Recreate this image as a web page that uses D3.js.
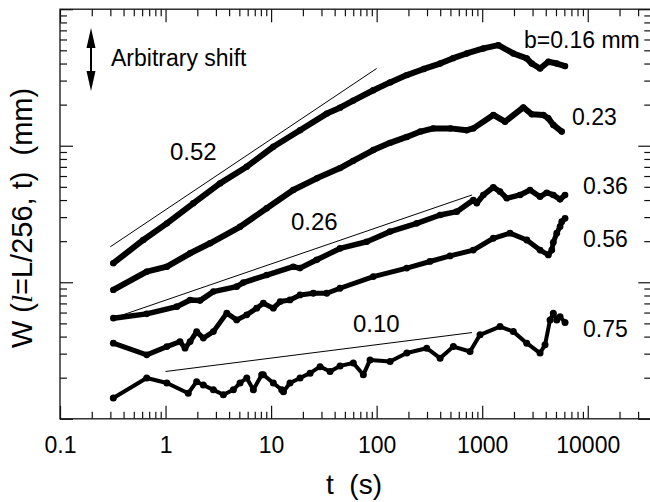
<!DOCTYPE html>
<html>
<head>
<meta charset="utf-8">
<script src="https://cdn.jsdelivr.net/npm/d3@7"></script>
<style>
  body { margin: 0; background: #fff; }
  text { font-family: "Liberation Sans", Arial, sans-serif; fill: #000; }
</style>
</head>
<body>
<svg id="chart" width="650" height="502"></svg>
<script>
// curves of W(l=L/256, t) for each b
var bLabels = ["b=0.16 mm", "0.23", "0.36", "0.56", "0.75"];

var t016 = [0.32, 0.615, 1.03, 1.83, 3.28, 5.88, 10.5, 18.8, 33.7, 45, 60, 93, 134, 193, 280, 399, 530, 714, 1025, 1422, 1972, 2642, 2948, 3532, 4233, 5085, 6095];
var w016 = [13.8, 20.4, 27.0, 37.9, 53.0, 70.2, 98.3, 130, 172, 190, 214, 255, 291, 329, 365, 400, 438, 474, 516, 545, 474, 436, 400, 368, 412, 400, 383];

var t023 = [0.32, 0.663, 1.03, 1.71, 2.64, 5.08, 9.09, 16.2, 27.1, 45, 60, 93, 134, 193, 260, 344, 500, 714, 824, 1275, 1646, 2453, 2948, 3796, 4233, 4721, 5671];
var w023 = [8.79, 11.96, 13.0, 16.3, 19.3, 25.5, 34.8, 47.4, 57.7, 68.6, 77.5, 93.0, 105, 116, 127, 134, 134, 130, 134, 168, 150, 191, 170, 168, 159, 142, 127];

var t036 = [0.32, 0.663, 1.28, 1.71, 2.12, 2.84, 4.72, 5.46, 9.09, 16.2, 18.8, 27.1, 45, 80.5, 134, 240, 399, 574, 824, 888, 1025, 1275, 1476, 1708, 2283, 2840, 3532, 4088, 4721, 5465, 6095];
var w036 = [5.46, 5.87, 6.63, 7.42, 7.34, 8.54, 9.29, 9.94, 11.3, 13.0, 12.7, 14.6, 17.7, 19.8, 23.5, 27.0, 31.1, 32.9, 40.0, 37.9, 43.6, 49.6, 46.1, 41.2, 43.6, 47.4, 42.3, 45.3, 43.6, 40.5, 43.6];

var t056 = [0.32, 0.663, 1.03, 1.37, 1.53, 1.71, 1.97, 2.28, 2.84, 3.80, 4.72, 5.88, 7.31, 8.44, 10.5, 12.2, 15.1, 18.8, 25.1, 33.7, 45, 93, 193, 320, 496, 824, 1275, 1835, 2642, 3532, 4233, 4559, 4721, 5085, 5465, 5671, 6095];
var w056 = [3.58, 2.94, 3.38, 3.68, 3.29, 3.68, 4.35, 3.90, 4.35, 5.94, 5.30, 5.77, 6.46, 7.03, 6.46, 7.22, 7.42, 8.08, 8.31, 8.31, 9.04, 11.0, 12.7, 14.2, 15.6, 17.2, 21.0, 22.9, 20.4, 17.2, 15.85, 17.2, 19.6, 22.9, 25.6, 27.8, 29.4];

var t075 = [0.32, 0.663, 1.03, 1.64, 1.97, 2.28, 2.84, 3.53, 4.39, 5.08, 5.88, 6.79, 8.15, 8.44, 10.5, 12.6, 13.1, 15.1, 18.8, 23.4, 29.1, 36.2, 45, 60.1, 74.8, 86.6, 134, 193, 298, 399, 533, 767, 954, 1476, 1972, 2642, 3532, 3939, 4393, 4721, 5085, 5465, 6095];
var w075 = [1.42, 1.99, 1.83, 1.54, 1.87, 1.77, 1.63, 1.50, 1.63, 1.83, 1.99, 1.63, 2.10, 2.10, 1.83, 1.63, 1.58, 1.83, 1.99, 2.16, 2.41, 2.22, 2.44, 2.56, 2.10, 2.70, 2.63, 3.03, 3.29, 2.78, 3.38, 3.11, 4.12, 4.74, 4.35, 3.58, 3.03, 3.48, 5.30, 5.94, 5.30, 5.60, 5.07];

// power-law guide lines (end points) and their slopes
var fitLabels = ["0.52", "0.26", "0.10"];
var fitT = [[0.3, 100], [0.32, 800], [1, 800]];
var fitW = [[18.2, 368], [5.46, 43.6], [2.22, 4.28]];

var xTicks = [0.1, 1, 10, 100, 1000, 10000];
var xTickLabels = ["0.1", "1", "10", "100", "1000", "10000"];
var yTicks = [1, 10, 100, 1000];

var svg = d3.select("#chart");

var x = d3.scaleLog().domain([0.1, 40000]).range([60, 651.3]);
var y = d3.scaleLog().domain([1, 1000]).range([418.8, 9.2]);

var x0 = x.range()[0], x1 = x.range()[1];
var yb = y.range()[0], yt = y.range()[1];

var xMinor = x.ticks().filter(function (d) { return xTicks.indexOf(d) < 0 && d < 40000; });
var yMinor = y.ticks().filter(function (d) { return yTicks.indexOf(d) < 0; });

function styleAxis(g) {
    g.select(".domain").remove();
    g.selectAll("line").attr("stroke", "#111").attr("stroke-width", 1.2);
}

// bottom + top
svg.append("g").attr("transform", "translate(0," + yb + ")")
    .call(d3.axisBottom(x).tickValues(xMinor).tickSize(-7).tickFormat(""))
    .call(styleAxis);
svg.append("g").attr("transform", "translate(0," + yb + ")")
    .call(d3.axisBottom(x).tickValues(xTicks).tickSize(-13).tickPadding(18)
        .tickFormat(function (d, i) { return xTickLabels[i]; }))
    .call(styleAxis)
    .attr("font-size", 23)
    .attr("font-family", "Liberation Sans, Arial, sans-serif");
svg.append("g").attr("transform", "translate(0," + yt + ")")
    .call(d3.axisTop(x).tickValues(xMinor).tickSize(-7).tickFormat(""))
    .call(styleAxis);
svg.append("g").attr("transform", "translate(0," + yt + ")")
    .call(d3.axisTop(x).tickValues(xTicks).tickSize(-13).tickFormat(""))
    .call(styleAxis);

// left + right
svg.append("g").attr("transform", "translate(" + x0 + ",0)")
    .call(d3.axisLeft(y).tickValues(yMinor).tickSize(-7).tickFormat(""))
    .call(styleAxis);
svg.append("g").attr("transform", "translate(" + x0 + ",0)")
    .call(d3.axisLeft(y).tickValues(yTicks).tickSize(-13).tickFormat(""))
    .call(styleAxis);
svg.append("g").attr("transform", "translate(" + x1 + ",0)")
    .call(d3.axisRight(y).tickValues(yMinor).tickSize(-7).tickFormat(""))
    .call(styleAxis);
svg.append("g").attr("transform", "translate(" + x1 + ",0)")
    .call(d3.axisRight(y).tickValues(yTicks).tickSize(-13).tickFormat(""))
    .call(styleAxis);

// frame
svg.append("rect")
    .attr("x", x0).attr("y", yt)
    .attr("width", x1 - x0).attr("height", yb - yt)
    .attr("fill", "none").attr("stroke", "#111").attr("stroke-width", 1.3);

// guide lines
var line = d3.line()
    .x(function (d) { return x(d[0]); })
    .y(function (d) { return y(d[1]); });

fitLabels.forEach(function (lab, i) {
    svg.append("path")
        .datum(d3.zip(fitT[i], fitW[i]))
        .attr("d", line)
        .attr("fill", "none")
        .attr("stroke", "#000")
        .attr("stroke-width", 1);
});

// data curves
var series = [
    { t: t016, w: w016, lw: 6, r: 3.2 },
    { t: t023, w: w023, lw: 6, r: 3.2 },
    { t: t036, w: w036, lw: 5.5, r: 3.3 },
    { t: t056, w: w056, lw: 5, r: 3.4 },
    { t: t075, w: w075, lw: 4, r: 3.5 }
];

series.forEach(function (s) {
    var pts = d3.zip(s.t, s.w);
    svg.append("path")
        .datum(pts)
        .attr("d", line)
        .attr("fill", "none")
        .attr("stroke", "#000")
        .attr("stroke-width", s.lw)
        .attr("stroke-linejoin", "round")
        .attr("stroke-linecap", "round");
    svg.append("g").selectAll("circle")
        .data(pts)
        .join("circle")
        .attr("cx", function (d) { return x(d[0]); })
        .attr("cy", function (d) { return y(d[1]); })
        .attr("r", s.r)
        .attr("fill", "#000");
});

// text annotations
var bPos = [[524, 48], [572, 125], [583, 194], [583, 247], [583, 337]];
bLabels.forEach(function (lab, i) {
    svg.append("text")
        .attr("x", bPos[i][0]).attr("y", bPos[i][1])
        .attr("font-size", 23)
        .text(lab);
});

var fitPos = [[170, 160], [291, 230], [353, 332]];
fitLabels.forEach(function (lab, i) {
    svg.append("text")
        .attr("x", fitPos[i][0]).attr("y", fitPos[i][1])
        .attr("font-size", 24)
        .text(lab);
});

// arbitrary shift arrow
svg.append("line")
    .attr("x1", 91).attr("y1", 40).attr("x2", 91).attr("y2", 80)
    .attr("stroke", "#000").attr("stroke-width", 2);
svg.append("path").attr("d", "M91,28 L86.5,48 L95.5,48 Z").attr("fill", "#000");
svg.append("path").attr("d", "M91,91 L86.5,71 L95.5,71 Z").attr("fill", "#000");
svg.append("text")
    .attr("x", 111).attr("y", 66)
    .attr("font-size", 23)
    .text("Arbitrary shift");

// axis titles
svg.append("text")
    .attr("x", 354).attr("y", 494)
    .attr("text-anchor", "middle")
    .attr("font-size", 28)
    .text("t\u00a0\u00a0(s)");

var yl = svg.append("text")
    .attr("transform", "translate(32,218) rotate(-90)")
    .attr("text-anchor", "middle")
    .attr("font-size", 29);
yl.append("tspan").text("W (");
yl.append("tspan").attr("font-style", "italic")
    .style("font-family", "Liberation Serif, Times New Roman, serif").text("l");
yl.append("tspan").text("=L/256, t)\u00a0\u00a0(mm)");
</script>
</body>
</html>
